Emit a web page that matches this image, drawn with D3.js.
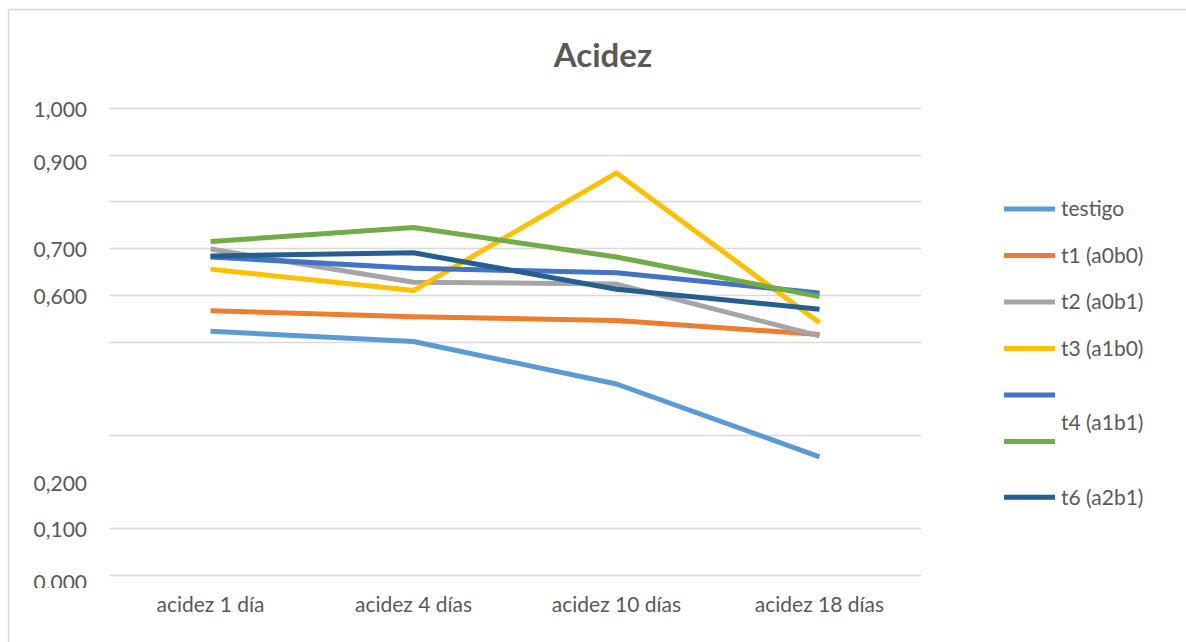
<!DOCTYPE html>
<html>
<head>
<meta charset="utf-8">
<script src="https://cdn.jsdelivr.net/npm/d3@7"></script>
<style>
  body { margin: 0; background: #fff; }
  svg { display: block; font-family: Lato, "Open Sans", sans-serif; }
</style>
</head>
<body>
<svg id="chart" width="1186" height="642"></svg>
<script>
var categories = ["acidez 1 día", "acidez 4 días", "acidez 10 días", "acidez 18 días"];

var testigo = [0.522, 0.500, 0.409, 0.253];
var t1 = [0.566, 0.553, 0.545, 0.515];
var t2 = [0.698, 0.627, 0.623, 0.512];
var t3 = [0.655, 0.609, 0.861, 0.540];
var t4 = [0.681, 0.657, 0.647, 0.604];
var t4b = [0.714, 0.744, 0.681, 0.596];
var t6 = [0.683, 0.690, 0.612, 0.569];

var seriesNames = ["testigo", "t1 (a0b0)", "t2 (a0b1)", "t3 (a1b0)", "", "t4 (a1b1)", "t6 (a2b1)"];
var colors = ["#5B9BD5", "#ED7D31", "#A5A5A5", "#FFC000", "#4472C4", "#70AD47", "#255E91"];

// gridlines / labels that actually show up in the original
var gridTicks = [0, 0.1, 0.3, 0.5, 0.6, 0.7, 0.8, 0.9, 1.0];
var labelTicks = [0, 0.1, 0.2, 0.6, 0.7, 0.9, 1.0];

var values = [testigo, t1, t2, t3, t4, t4b, t6];
var series = values.map(function (v, i) {
  return { name: seriesNames[i], color: colors[i], values: v };
});

var svg = d3.select("#chart");
var margin = { left: 109, right: 265, top: 108, bottom: 67 };
var W = 1186, H = 642;
var fs = 21;

var x = d3.scaleBand()
    .domain(categories)
    .range([margin.left, W - margin.right]);

var y = d3.scaleLinear()
    .domain([0, 1])
    .range([H - margin.bottom, margin.top]);

// outer frame
svg.append("rect")
    .attr("x", 8.5).attr("y", 9.5)
    .attr("width", 1200).attr("height", 700)
    .attr("fill", "none")
    .attr("stroke", "#d9d9d9")
    .attr("stroke-width", 1.5);

svg.append("text")
    .attr("x", 603).attr("y", 67)
    .attr("text-anchor", "middle")
    .attr("font-size", 33)
    .attr("font-weight", "bold")
    .attr("fill", "#595959")
    .text("Acidez");

// clip so the 0,000 label gets cut like in the original
svg.append("clipPath").attr("id", "yclip")
  .append("rect").attr("x", -110).attr("y", 0).attr("width", 110).attr("height", 588);

var yAxis = svg.append("g")
    .attr("transform", "translate(" + margin.left + ",0)")
    .attr("clip-path", "url(#yclip)")
    .call(d3.axisLeft(y)
        .tickValues(labelTicks)
        .tickSize(0)
        .tickPadding(22)
        .tickFormat(function (d) { return d3.format(".3f")(d).replace(".", ","); }));
yAxis.select(".domain").remove();
yAxis.selectAll("text")
    .attr("font-size", fs)
    .attr("font-family", "Lato, sans-serif")
    .attr("fill", "#595959")
    .attr("dy", function (d) { return (d === 0.9 || d === 0) ? "0.7em" : "0.4em"; });

svg.append("g")
  .selectAll("line")
  .data(gridTicks)
  .join("line")
    .attr("x1", margin.left).attr("x2", W - margin.right)
    .attr("y1", function (d) { return Math.round(y(d)) + 0.5; })
    .attr("y2", function (d) { return Math.round(y(d)) + 0.5; })
    .attr("stroke", "#d9d9d9")
    .attr("stroke-width", 1.5);

var xAxis = svg.append("g")
    .attr("transform", "translate(0," + (H - margin.bottom) + ")")
    .call(d3.axisBottom(x).tickSize(0).tickPadding(22));
xAxis.select(".domain").remove();
xAxis.selectAll("text")
    .attr("font-size", fs)
    .attr("font-family", "Lato, sans-serif")
    .attr("fill", "#595959");

var line = d3.line()
    .x(function (d, i) { return x(categories[i]) + x.bandwidth() / 2; })
    .y(function (d) { return y(d); });

svg.append("g")
  .selectAll("path")
  .data(series)
  .join("path")
    .attr("d", function (s) { return line(s.values); })
    .attr("fill", "none")
    .attr("stroke", function (s) { return s.color; })
    .attr("stroke-width", 5)
    .attr("stroke-linejoin", "round");

// legend
var leg = svg.append("g");
var rowY = d3.scaleLinear().domain([0, 1]).range([209, 255.5]);
var rows = [0, 1, 2, 3, 4, 5.0, 6.2];
series.forEach(function (s, i) {
  var yy = rowY(rows[i]);
  leg.append("line")
      .attr("x1", 1004).attr("x2", 1055)
      .attr("y1", yy).attr("y2", yy)
      .attr("stroke", s.color)
      .attr("stroke-width", 5);
  if (s.name) {
    leg.append("text")
        .attr("x", 1061)
        .attr("y", i === 5 ? yy - 19 : yy)
        .attr("dy", "0.35em")
        .attr("font-size", fs)
        .attr("fill", "#595959")
        .text(s.name);
  }
});
</script>
</body>
</html>
